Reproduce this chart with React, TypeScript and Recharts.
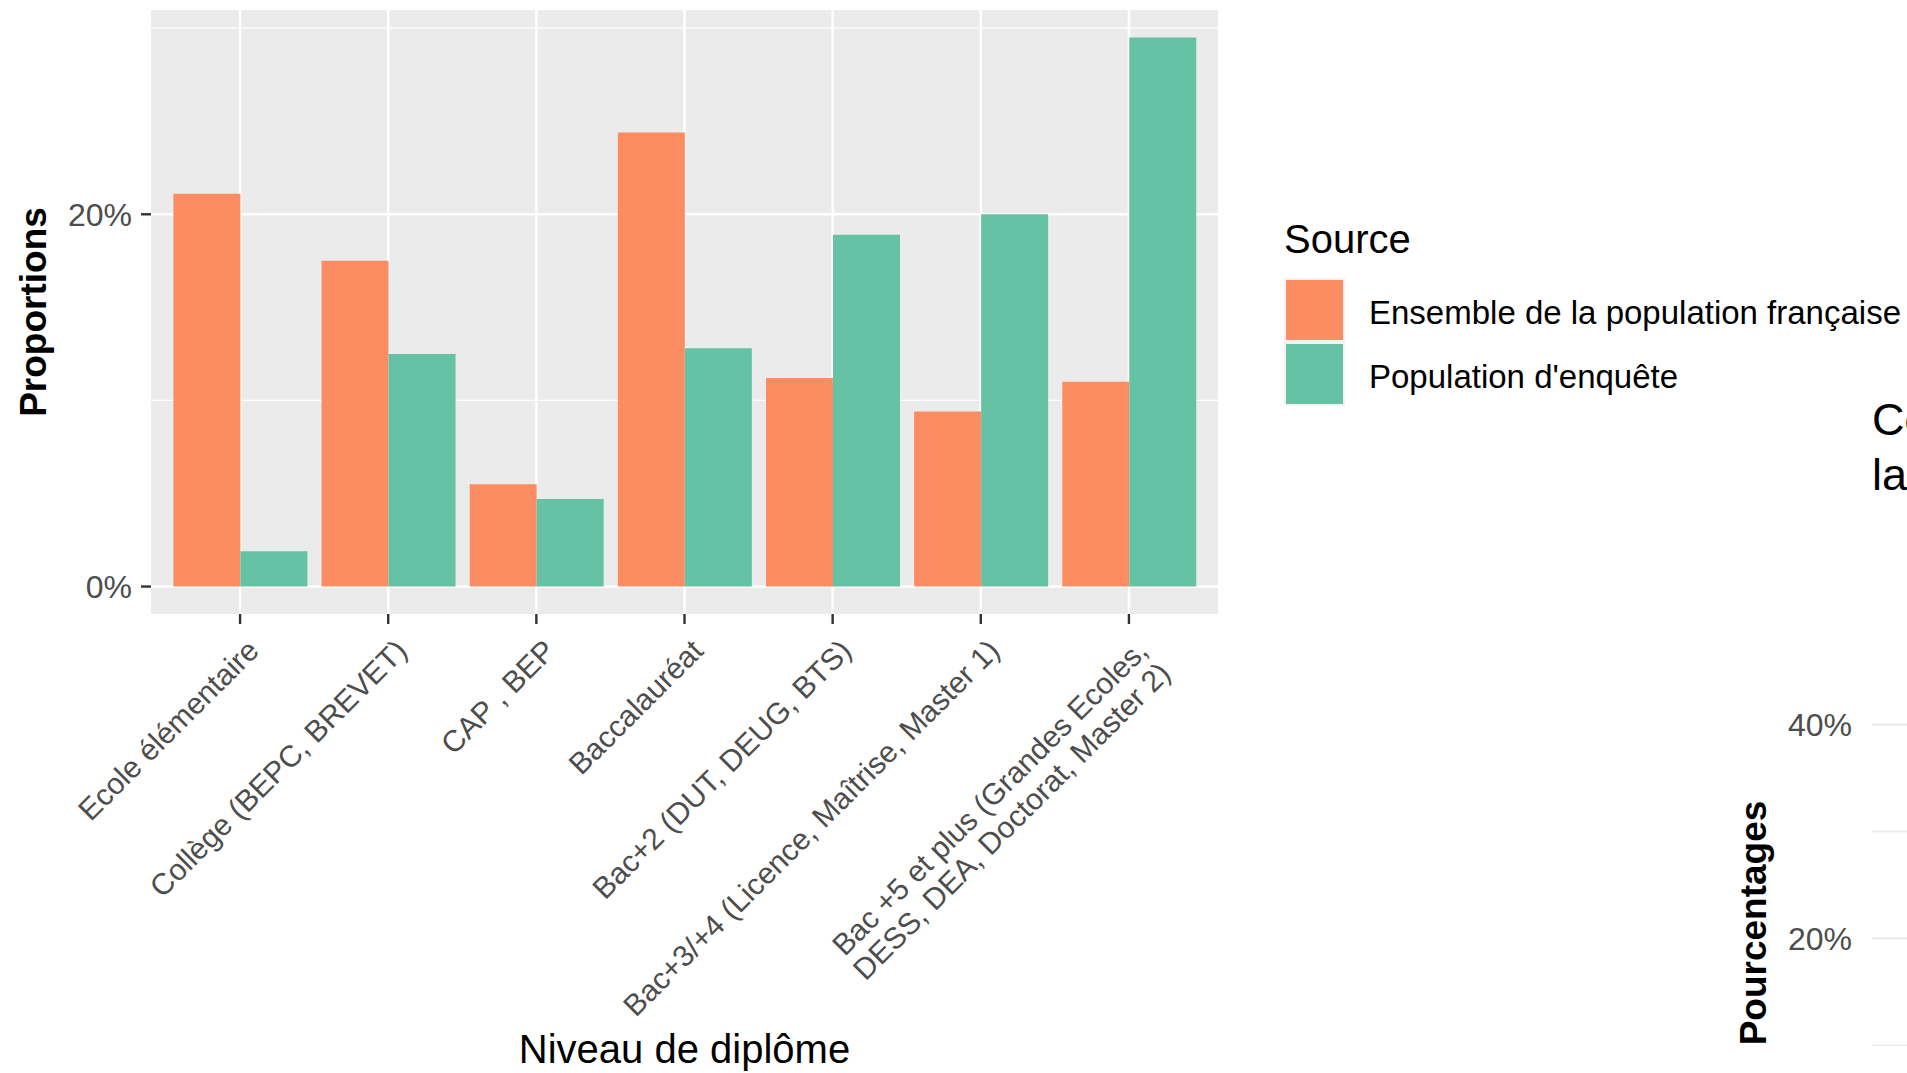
import { BarChart, Bar, XAxis, YAxis, CartesianGrid, Legend } from 'recharts'

const FONT = '"Liberation Sans", Arial, sans-serif'

const levels = [
  'Ecole élémentaire',
  'Collège (BEPC, BREVET)',
  'CAP , BEP',
  'Baccalauréat',
  'Bac+2 (DUT, DEUG, BTS)',
  'Bac+3/+4 (Licence, Maîtrise, Master 1)',
  'Bac +5 et plus (Grandes Ecoles,\nDESS, DEA, Doctorat, Master 2)',
]
const ensembleValues = [21.1, 17.5, 5.5, 24.4, 11.2, 9.4, 11.0]
const enqueteValues = [1.9, 12.5, 4.7, 12.8, 18.9, 20.0, 29.5]
const seriesNames = ['Ensemble de la population française', "Population d'enquête"]
const majorTicks = [0, 20]
const minorTicks = [10, 30]

// fragment of the neighbouring plot, cut by the right edge
const sideTicks = [0, 20, 40]
const sideMinorTicks = [10, 30]
const sideDomain = [0, 47]
const sideTitle = "Comparaison des niveaux de diplôme entre\nla population d'enquête et la population française"

const data = levels.map((level, i) => ({
  level,
  ensemble: ensembleValues[i],
  enquete: enqueteValues[i],
}))

const maxValue = Math.max(...ensembleValues, ...enqueteValues)
const yDomain = [-0.05 * maxValue, 1.05 * maxValue]

const pct = (v: number) => `${v}%`

function DiplomaTick({ x, y, payload }: any) {
  const lines = String(payload.value).split('\n')
  return (
    <g transform={`translate(${x},${y}) rotate(-45)`}>
      <text textAnchor="end" fill="#4D4D4D" fontSize={30} fontFamily={FONT}>
        {lines.map((line, i) => (
          <tspan key={i} x={0} dy={i === 0 ? 29 : 32}>
            {line}
          </tspan>
        ))}
      </text>
    </g>
  )
}

function SourceLegend({ payload }: any) {
  return (
    <div style={{ fontFamily: FONT, whiteSpace: 'nowrap' }}>
      <div style={{ fontSize: 40, lineHeight: '40px', color: '#000', marginBottom: 19 }}>Source</div>
      {(payload || []).map((entry: any) => (
        <div key={entry.value} style={{ display: 'flex', alignItems: 'center', height: 64 }}>
          <div style={{ width: 61, height: 64, background: '#F2F2F2', padding: 2, boxSizing: 'border-box' }}>
            <div style={{ width: '100%', height: '100%', background: entry.color }} />
          </div>
          <span style={{ marginLeft: 24, fontSize: 33, color: '#000', paddingTop: 6 }}>{entry.value}</span>
        </div>
      ))}
    </div>
  )
}

const tickStyle = { fill: '#4D4D4D', fontSize: 32, fontFamily: FONT }

export default function App() {
  return (
    <div
      style={{
        position: 'fixed',
        left: 0,
        top: 0,
        width: 1907,
        height: 1073,
        overflow: 'hidden',
        background: '#fff',
      }}
    >
      <BarChart
        width={1907}
        height={1073}
        data={data}
        margin={{ top: 10, right: 689, bottom: 0, left: 0 }}
        barCategoryGap="5%"
        barGap={0}
      >
        <CartesianGrid fill="#EBEBEB" fillOpacity={1} stroke="#FFFFFF" strokeWidth={2.4} syncWithTicks />
        <CartesianGrid horizontalValues={minorTicks} vertical={false} stroke="#FFFFFF" strokeWidth={1.2} syncWithTicks />
        <XAxis
          dataKey="level"
          interval={0}
          padding={{ left: 15, right: 15 }}
          height={459}
          axisLine={false}
          tickLine={{ stroke: '#333333', strokeWidth: 2.4 }}
          tickSize={10}
          tickMargin={8}
          tick={<DiplomaTick />}
          label={{
            content: ({ viewBox }: any) => (
              <text
                x={viewBox.x + viewBox.width / 2}
                y={viewBox.y + viewBox.height - 10}
                textAnchor="middle"
                fontSize={40}
                fontFamily={FONT}
                fill="#000"
              >
                Niveau de diplôme
              </text>
            ),
          }}
        />
        <YAxis
          type="number"
          domain={yDomain}
          allowDataOverflow
          ticks={majorTicks}
          tickFormatter={pct}
          width={151}
          axisLine={false}
          tickLine={{ stroke: '#333333', strokeWidth: 2.4 }}
          tickSize={10}
          tickMargin={9}
          tick={tickStyle}
          label={{
            content: ({ viewBox }: any) => {
              const cx = viewBox.x + 46
              const cy = viewBox.y + viewBox.height / 2
              return (
                <text
                  x={cx}
                  y={cy}
                  transform={`rotate(-90 ${cx} ${cy})`}
                  textAnchor="middle"
                  fontSize={37}
                  fontWeight="bold"
                  fontFamily={FONT}
                  fill="#000"
                >
                  Proportions
                </text>
              )
            },
          }}
        />
        <Legend
          layout="vertical"
          align="center"
          verticalAlign="middle"
          content={<SourceLegend />}
          wrapperStyle={{ left: 1284, top: 219, width: 'auto', height: 'auto' }}
        />
        <Bar dataKey="ensemble" name={seriesNames[0]} fill="#FC8D62" isAnimationActive={false} />
        <Bar dataKey="enquete" name={seriesNames[1]} fill="#66C2A5" isAnimationActive={false} />
      </BarChart>

      <div
        style={{
          position: 'absolute',
          left: 1872,
          top: 392,
          fontFamily: FONT,
          fontSize: 45,
          lineHeight: '55px',
          color: '#000',
          whiteSpace: 'pre',
        }}
      >
        {sideTitle}
      </div>

      <div style={{ position: 'absolute', left: 1700, top: 650 }}>
        <BarChart width={600} height={502} data={data} margin={{ top: 0, right: 0, bottom: 0, left: 0 }}>
          <CartesianGrid vertical={false} stroke="#EBEBEB" strokeWidth={2.2} syncWithTicks />
          <CartesianGrid horizontalValues={sideMinorTicks} vertical={false} stroke="#EBEBEB" strokeWidth={1.6} syncWithTicks />
          <XAxis dataKey="level" hide height={0} />
          <YAxis
            type="number"
            domain={sideDomain}
            allowDataOverflow
            ticks={sideTicks}
            tickFormatter={pct}
            width={172}
            axisLine={false}
            tickLine={false}
            tickSize={0}
            tickMargin={20}
            tick={tickStyle}
            label={{
              content: ({ viewBox }: any) => {
                const cx = viewBox.x + 66
                const cy = viewBox.y + viewBox.height / 2 + 22
                return (
                  <text
                    x={cx}
                    y={cy}
                    transform={`rotate(-90 ${cx} ${cy})`}
                    textAnchor="middle"
                    fontSize={37}
                    fontWeight="bold"
                    fontFamily={FONT}
                    fill="#000"
                  >
                    Pourcentages
                  </text>
                )
              },
            }}
          />
        </BarChart>
      </div>
    </div>
  )
}
